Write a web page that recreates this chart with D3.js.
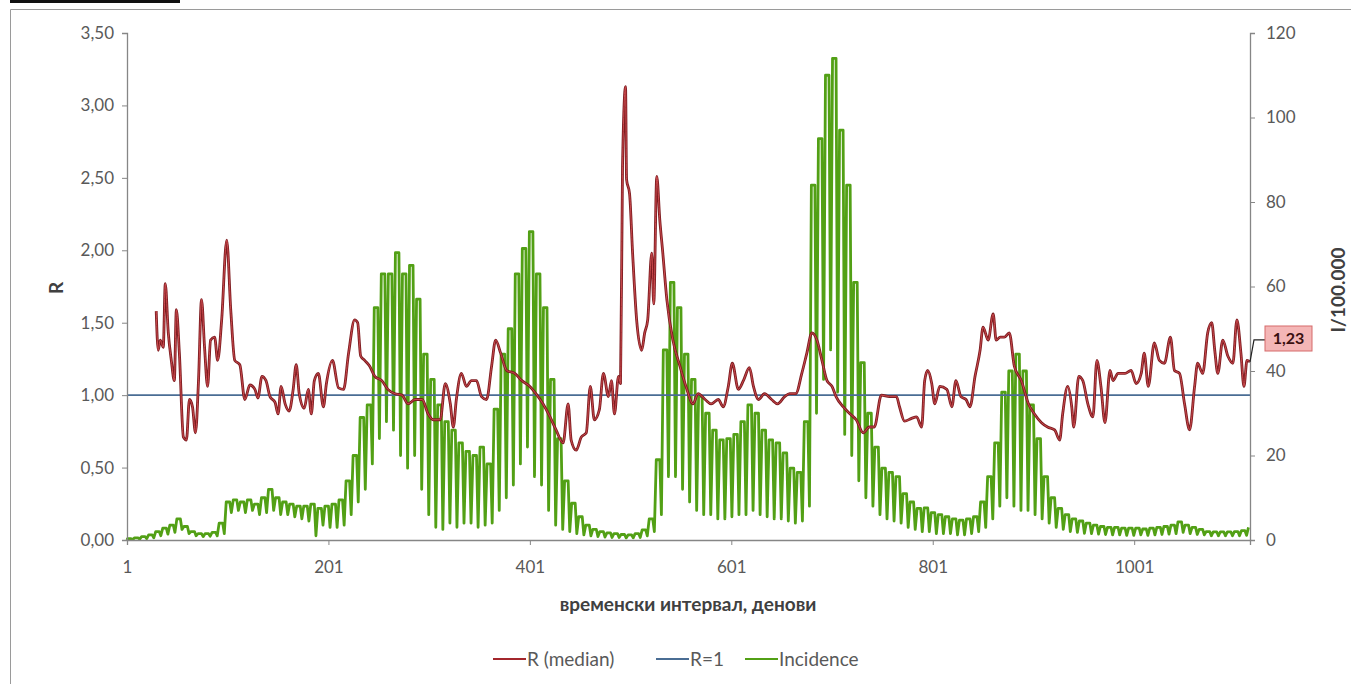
<!DOCTYPE html>
<html><head><meta charset="utf-8">
<script src="https://cdn.jsdelivr.net/npm/d3@7"></script>
<style>
html,body{margin:0;padding:0;background:#fff;}
svg{display:block;font-family:Lato,"Open Sans",sans-serif;}
</style></head>
<body>
<svg id="chart" width="1351" height="684"></svg>
<script>
// ---------- DATA ----------
const dayCount = 1116;
const xTickDays = [1, 201, 401, 601, 801, 1001];
const leftTicks = [0, 0.5, 1, 1.5, 2, 2.5, 3, 3.5];
const rightTicks = [0, 20, 40, 60, 80, 100, 120];
const seriesNames = ["R (median)", "R=1", "Incidence"];
const lastRLabel = "1,23";

// Incidence per 100 000: weekly high (weekday) and low (weekend) values, week 0 starts on day 1
const incWeekHigh = [0.3,0.5,0.8,1.2,2.0,2.8,3.5,5.0,3.2,2.0,1.5,1.5,1.8,4.0,9.0,9.5,9.0,9.5,8.5,10.0,
 12.0,10.0,9.0,8.5,8.0,8.0,8.5,7.5,8.0,8.5,9.5,14,20,29,32,55,63,63,68,63,
 65,57,44,38,32,28,26,23,21,20,22,18,31,44,50,63,69,73,63,55,
 38,24,14,8.7,5.5,3.5,2.5,2.0,1.7,1.5,1.3,1.2,1.5,2.4,5.0,19,45,61,55,44,
 38,34,30,26,23.7,24,25,28,32,30,26,23.7,23,20.6,17,16,28,84,95,110,
 114,97,84,61,42,30,22,17,16,15,11,9,7.5,7.6,6.5,6,5.5,5,4.7,5,
 5.5,9,15,23,35,40,44,40,32,24,15,10,7.5,6,5,4.5,4,3.5,3.2,3.0,
 3.0,2.8,2.8,2.8,2.6,2.8,3.0,3.2,3.5,4.3,3.5,3.0,2.5,2.0,1.9,1.9,1.9,2.0,2.2,3.0];
const incWeekLow = [0.1,0.2,0.3,0.5,1.0,1.4,1.8,2.5,1.5,1.0,0.8,0.9,1.0,1.5,6.5,7.0,6.5,7.0,6.0,6.5,
 7.0,6.0,6.0,5.5,5.0,4.5,1.0,3.5,3.0,3.0,3.5,6,9,12,18,24,28,26,20,17,
 20,12,6,3,2.5,4,3,4,4,3,3.5,4,7,10,13,18,22,15,13,7,
 3.5,2.5,2,1.5,1.2,1,0.8,0.7,0.6,0.6,0.5,0.5,0.6,1.0,2.0,6,15,15,12,9,
 7,6,6,5,5,5.5,6,6,7,6,5.5,5,5,4.5,4,4.5,8,30,38,45,
 35,25,20,14,10,8,6,5,4.5,4,3,2.5,2,2,1.5,1.5,1.5,1.2,1.2,1.5,
 2,3,5,8,10,8,7,7,6,5,4,3,2.5,2,1.8,1.6,1.5,1.4,1.3,1.2,
 1.2,1.1,1.1,1.2,1.1,1.2,1.3,1.4,1.5,1.8,1.5,1.3,1.2,1.0,1.0,1.0,1.0,1.0,1.1,1.5];

// R (median) read at irregular days
const rDays = [30,32,34,37,39,42,45,48,50,53,57,60,63,66,69,72,75,78,81,84,88,91,95,100,104,108,113,118,123,128,
 131,135,139,143,148,151,154,158,162,166,169,172,177,181,184,187,191,196,199,205,211,216,221,227,230,233,237,242,247,254,
 260,267,274,280,287,294,300,305,312,317,322,325,328,333,338,343,348,353,358,363,367,372,378,386,393,401,407,414,421,427,
 434,439,442,447,452,457,461,465,470,474,479,482,485,489,491,493,496,497,500,503,507,512,515,518,522,524,527,530,533,537,
 543,550,556,563,568,575,581,588,593,598,602,608,613,619,623,628,634,641,647,654,659,665,671,676,681,686,691,696,701,705,
 712,719,725,732,738,743,750,758,765,768,773,780,785,790,793,796,800,803,808,815,820,824,829,834,838,843,848,851,856,861,
 864,868,872,877,882,889,896,902,909,915,922,927,930,935,939,941,946,950,955,960,964,968,972,977,980,985,992,998,1003,1008,
 1011,1015,1021,1026,1031,1037,1041,1046,1051,1056,1061,1064,1069,1074,1078,1081,1084,1089,1094,1099,1103,1107,1110,1113,1116];
const rValues = [1.58,1.31,1.38,1.33,1.77,1.43,1.24,1.10,1.59,1.29,0.71,0.69,0.97,0.92,0.74,1.10,1.66,1.33,1.06,1.38,1.40,1.24,1.52,2.07,1.59,1.24,1.21,0.97,1.07,1.04,
 0.98,1.13,1.10,0.99,0.95,0.87,1.06,0.94,0.89,1.04,1.21,1.01,0.91,1.04,0.87,1.10,1.15,0.92,1.08,1.24,1.05,1.04,1.29,1.52,1.50,1.27,1.24,1.20,1.13,1.10,
 1.04,1.01,1.00,0.94,0.97,0.97,0.87,0.83,0.83,1.08,0.94,0.78,0.97,1.15,1.06,1.10,1.10,0.99,0.97,1.20,1.38,1.29,1.17,1.15,1.10,1.06,1.01,0.94,0.85,0.76,
 0.67,0.94,0.69,0.62,0.71,0.74,1.06,0.83,0.90,1.15,0.99,1.10,0.87,1.13,1.08,2.58,3.13,2.49,2.39,1.98,1.52,1.31,1.43,1.52,1.98,1.63,2.51,2.21,1.98,1.66,
 1.38,1.20,1.06,0.94,1.01,0.97,0.94,0.97,0.92,1.06,1.22,1.04,1.10,1.19,1.06,0.97,1.01,0.97,0.94,0.99,1.01,1.01,1.15,1.29,1.43,1.38,1.24,1.10,1.06,0.99,
 0.92,0.87,0.83,0.74,0.78,0.78,1.00,0.99,0.99,0.92,0.82,0.84,0.85,0.78,1.10,1.17,1.08,0.94,1.06,1.04,0.92,1.10,0.99,0.97,0.92,1.13,1.31,1.47,1.38,1.56,
 1.38,1.40,1.40,1.43,1.20,1.10,0.94,0.87,0.81,0.78,0.76,0.69,0.87,1.06,0.92,0.78,1.13,1.10,0.94,0.85,1.24,1.06,0.81,1.17,1.10,1.15,1.15,1.17,1.08,1.15,
 1.29,1.06,1.36,1.24,1.22,1.40,1.17,1.15,0.94,0.76,1.06,1.22,1.15,1.43,1.50,1.31,1.15,1.38,1.27,1.22,1.52,1.29,1.06,1.24,1.23];

// ---------- CHART ----------
const svg = d3.select("#chart");
const x = d3.scaleLinear().domain([1, dayCount]).range([127, 1250]);
const yL = d3.scaleLinear().domain([0, 3.5]).range([540, 33]);
const yR = d3.scaleLinear().domain([0, 120]).range([540, 33]);
const comma = v => d3.format(".2f")(v).replace(".", ",");

const cGray = "#595959", cAxis = "#868686";
const cRed = "#a3262c", cBlue = "#4a6d94", cGreen = "#52a015";

// clipped header remains and frame
svg.append("rect").attr("x", 10).attr("y", 0).attr("width", 170).attr("height", 3).attr("fill", "#111");
svg.append("path").attr("d", "M10.5,684 V9.5 H1351").attr("fill", "none").attr("stroke", "#9a9a9a").attr("stroke-width", 1);

// incidence points: weekday readings at the weekly high, one weekend dip
const incPts = [[1, 0]];
incWeekHigh.forEach((h, k) => {
  [[7 * k + 1.5, h], [7 * k + 5, h], [7 * k + 6.6, incWeekLow[k]]].forEach(p => {
    if (p[0] <= dayCount) incPts.push(p);
  });
});

svg.append("path").datum(incPts)
  .attr("fill", "none").attr("stroke", cGreen).attr("stroke-width", 2.8).attr("stroke-linejoin", "round")
  .attr("d", d3.line().x(d => x(d[0])).y(d => yR(d[1])));

// R=1 line
svg.append("line").attr("x1", x(1)).attr("x2", x(dayCount)).attr("y1", yL(1)).attr("y2", yL(1))
  .attr("stroke", cBlue).attr("stroke-width", 1.8);

// R median
const rPts = rDays.map((d, i) => [d, rValues[i]]);
const rLine = d3.line().curve(d3.curveMonotoneX).x(d => x(d[0])).y(d => yL(d[1]));
svg.append("path").datum(rPts).attr("fill", "none").attr("stroke", "#7d1c20").attr("stroke-width", 2.8).attr("stroke-linejoin", "round").attr("d", rLine);
svg.append("path").datum(rPts).attr("fill", "none").attr("stroke", "#cc4a4e").attr("stroke-width", 1).attr("stroke-linejoin", "round").attr("d", rLine);

// axes
const gL = svg.append("g").attr("transform", "translate(127,0)")
  .call(d3.axisLeft(yL).tickValues(leftTicks).tickFormat(comma).tickSize(5).tickPadding(8));
const gR = svg.append("g").attr("transform", "translate(1250,0)")
  .call(d3.axisRight(yR).tickValues(rightTicks).tickFormat(d3.format("d")).tickSize(5).tickPadding(11));
const gX = svg.append("g").attr("transform", "translate(0,540)")
  .call(d3.axisBottom(x).tickValues(xTickDays).tickFormat(d3.format("d")).tickSize(5).tickPadding(16));
[gL, gR, gX].forEach(g => {
  g.select(".domain").attr("stroke", cAxis).attr("stroke-width", 1.3);
  g.selectAll(".tick line").attr("stroke", cAxis);
  g.selectAll(".tick text").attr("fill", cGray).attr("font-size", 17).attr("font-family", "Lato, sans-serif");
});

// axis titles
svg.append("text").attr("transform", "translate(63,288) rotate(-90)").attr("text-anchor", "middle")
  .attr("font-weight", "bold").attr("font-size", 19).attr("fill", "#404040").text("R");
svg.append("text").attr("transform", "translate(1345,290) rotate(-90)").attr("text-anchor", "middle")
  .attr("font-weight", "bold").attr("font-size", 19).attr("fill", "#404040").text("I/100.000");
svg.append("text").attr("x", 688).attr("y", 611).attr("text-anchor", "middle")
  .attr("font-weight", "bold").attr("font-size", 19).attr("fill", "#404040").text("временски интервал, денови");

// last-value label
const lastPt = rPts[rPts.length - 1];
const ly = yL(lastPt[1]);
svg.append("path").attr("d", `M${x(lastPt[0])},${ly} L${x(lastPt[0]) + 4},${ly - 22} H1265`)
  .attr("fill", "none").attr("stroke", "#222").attr("stroke-width", 1.2);
svg.append("rect").attr("x", 1265).attr("y", 326).attr("width", 47).attr("height", 25)
  .attr("fill", "#f4b6b6").attr("stroke", "#d66a6a").attr("stroke-width", 1);
svg.append("text").attr("x", 1288.5).attr("y", 344).attr("text-anchor", "middle")
  .attr("font-weight", "bold").attr("font-size", 16).attr("fill", "#3a1010").text(lastRLabel);

// legend
const legendItems = [
  {name: seriesNames[0], color: cRed, x: 493},
  {name: seriesNames[1], color: cBlue, x: 656},
  {name: seriesNames[2], color: cGreen, x: 745}
];
const lg = svg.append("g");
legendItems.forEach(it => {
  lg.append("line").attr("x1", it.x).attr("x2", it.x + 33).attr("y1", 659).attr("y2", 659)
    .attr("stroke", it.color).attr("stroke-width", 2);
  lg.append("text").attr("x", it.x + 34).attr("y", 666).attr("font-size", 19).attr("fill", cGray).text(it.name);
});
</script>
</body></html>
